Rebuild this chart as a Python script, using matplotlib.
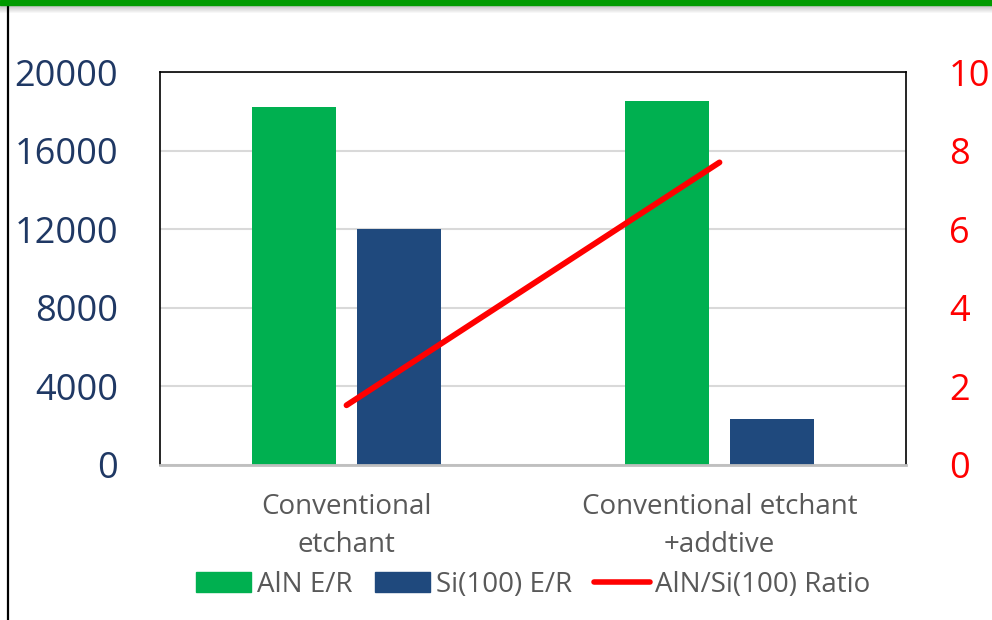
import numpy as np
import matplotlib
matplotlib.use('Agg')
import matplotlib.pyplot as plt
from matplotlib.patches import Patch, Rectangle
from matplotlib.lines import Line2D

plt.rcParams['font.family'] = ['Open Sans', 'DejaVu Sans']

categories = ['Conventional\netchant', 'Conventional etchant\n+addtive']
aln_er = [18200, 18500]
si_er = [12000, 2350]
ratio = [1.52, 7.7]

green = '#00B050'
navy = '#1F497D'
red = '#FF0000'

fig = plt.figure(figsize=(9.92, 6.2), dpi=100)

# slide decoration: green top strip, shadow, left border line
fig.patches.append(Rectangle((0, 1 - 5 / 620), 1, 5 / 620, transform=fig.transFigure,
                             color='#009A00', zorder=5))
for i in range(8):
    a = 0.25 * (1 - i / 8)
    fig.patches.append(Rectangle((0, 1 - (6 + i) / 620), 1, 1 / 620, transform=fig.transFigure,
                                 color='black', alpha=a, lw=0, zorder=4))
fig.add_artist(Line2D([8 / 992, 8 / 992], [0, 1 - 5 / 620], transform=fig.transFigure,
                      color='black', lw=1.6))

ax = fig.add_axes([160 / 992, 155 / 620, 746 / 992, 393 / 620])
x = np.arange(len(categories))
w = 0.225
off = 0.141
ax.bar(x - off, aln_er, w, color=green, zorder=2)
ax.bar(x + off, si_er, w, color=navy, zorder=2)
ax.set_xlim(-0.5, 1.5)
ax.set_ylim(0, 20000)
ax.set_yticks(np.arange(0, 20001, 4000))
ax.yaxis.grid(True, color='#D9D9D9', lw=1.5, zorder=0)
ax.set_axisbelow(True)
ax.tick_params(axis='y', length=0, pad=30, labelsize=26, labelcolor='#1F3864')
ax.set_xticks(x)
ax.set_xticklabels(categories, fontsize=20, color='#595959', linespacing=1.5)
ax.tick_params(axis='x', length=0, pad=20)
for s in ['left', 'top', 'right']:
    ax.spines[s].set_color('black')
    ax.spines[s].set_linewidth(1.2)
ax.spines['bottom'].set_color('#BFBFBF')
ax.spines['bottom'].set_linewidth(2)

ax2 = ax.twinx()
ax2.plot(x, ratio, color=red, lw=4.2, solid_capstyle='round', zorder=3)
ax2.set_ylim(0, 10)
ax2.set_yticks(np.arange(0, 11, 2))
ax2.tick_params(axis='y', length=0, pad=31, labelsize=26, labelcolor=red)
for s in ax2.spines.values():
    s.set_visible(False)

handles = [Patch(color=green), Patch(color=navy),
           Line2D([0], [0], color=red, lw=4, solid_capstyle='round')]
labels = ['AlN E/R', 'Si(100) E/R', 'AlN/Si(100) Ratio']
fig.legend(handles, labels, loc='center', bbox_to_anchor=(533 / 992, 1 - 585 / 620),
           ncol=3, frameon=False, fontsize=20, handlelength=2.0, handleheight=0.75,
           handletextpad=0.2, columnspacing=0.8, labelcolor='#595959')

fig.savefig('out.png', dpi=100)
